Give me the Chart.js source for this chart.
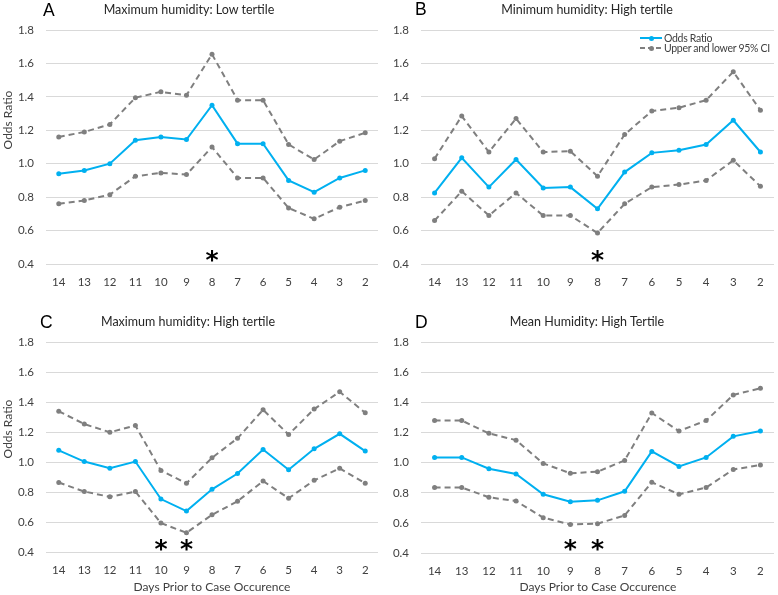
<!DOCTYPE html>
<html>
<head>
<meta charset="utf-8">
<script src="https://cdn.jsdelivr.net/npm/chart.js@4.4.1/dist/chart.umd.min.js"></script>
<style>
  body { margin: 0; background: #fff; }
  #page { position: relative; width: 778px; height: 595px; overflow: hidden; font-family: Lato, 'Open Sans', sans-serif; }
  canvas { position: absolute; }
  .letter { position: absolute; font-family: 'Liberation Sans', Arial, sans-serif; font-size: 17.5px; line-height: 1; color: #000; }
  .title { position: absolute; font-size: 12.5px; line-height: 1; color: #262626; white-space: nowrap; transform: translate(-50%, -50%); }
  .ytitle { position: absolute; font-size: 12px; line-height: 1; color: #404040; white-space: nowrap; transform: translate(-50%, -50%) rotate(-90deg); }
  .xtitle { position: absolute; font-size: 12px; line-height: 1; color: #404040; white-space: nowrap; transform: translate(-50%, -50%); }
  .legend { position: absolute; left: 640px; top: 33px; font-size: 10.5px; letter-spacing: -0.3px; color: #404040; }
  .legend .row { height: 10px; display: flex; align-items: center; white-space: nowrap; }
  .legend .swatch { position: relative; width: 22px; height: 2px; margin-right: 2px; }
  .legend .swatch i { position: absolute; left: 8.5px; top: -1.5px; width: 5px; height: 5px; border-radius: 50%; }
</style>
</head>
<body>
<div id="page">
  <canvas id="chartA"></canvas>
  <canvas id="chartB"></canvas>
  <canvas id="chartC"></canvas>
  <canvas id="chartD"></canvas>

  <div class="letter" style="left:43px;top:1.5px">A</div>
  <div class="letter" style="left:415px;top:1px">B</div>
  <div class="letter" style="left:40px;top:313.5px">C</div>
  <div class="letter" style="left:415px;top:313.5px">D</div>

  <div class="title" style="left:189px;top:10px">Maximum humidity: Low tertile</div>
  <div class="title" style="left:587px;top:10px">Minimum humidity: High tertile</div>
  <div class="title" style="left:188px;top:322px">Maximum humidity: High tertile</div>
  <div class="title" style="left:587px;top:322px">Mean Humidity: High Tertile</div>

  <div class="ytitle" style="left:7.5px;top:120px">Odds Ratio</div>
  <div class="ytitle" style="left:7.5px;top:429px">Odds Ratio</div>
  <div class="xtitle" style="left:212px;top:587px">Days Prior to Case Occurence</div>
  <div class="xtitle" style="left:598px;top:587px">Days Prior to Case Occurence</div>

  <div class="legend">
    <div class="row"><span class="swatch" style="background:#00b0f0"><i style="background:#00b0f0"></i></span>Odds Ratio</div>
    <div class="row"><span class="swatch" style="background:repeating-linear-gradient(90deg,#7f7f7f 0 5px,transparent 5px 8px)"><i style="background:#7f7f7f"></i></span>Upper and lower 95% CI</div>
  </div>
</div>

<script>
const DAYS = ['14', '13', '12', '11', '10', '9', '8', '7', '6', '5', '4', '3', '2']

// A: Maximum humidity, low tertile
const OR_A    = [0.94, 0.96, 1.00, 1.14, 1.16, 1.145, 1.35, 1.12, 1.12, 0.90, 0.83, 0.915, 0.96]
const UPPER_A = [1.16, 1.19, 1.235, 1.395, 1.43, 1.41, 1.655, 1.38, 1.38, 1.115, 1.025, 1.135, 1.185]
const LOWER_A = [0.76, 0.78, 0.815, 0.925, 0.945, 0.935, 1.10, 0.915, 0.915, 0.735, 0.67, 0.74, 0.78]
const SIG_A   = ['8']

// B: Minimum humidity, high tertile
const OR_B    = [0.825, 1.035, 0.86, 1.025, 0.855, 0.86, 0.73, 0.95, 1.065, 1.08, 1.115, 1.26, 1.07]
const UPPER_B = [1.03, 1.285, 1.07, 1.27, 1.07, 1.075, 0.925, 1.175, 1.315, 1.335, 1.38, 1.55, 1.32]
const LOWER_B = [0.66, 0.835, 0.69, 0.825, 0.69, 0.69, 0.585, 0.76, 0.86, 0.875, 0.90, 1.02, 0.865]
const SIG_B   = ['8']

// C: Maximum humidity, high tertile
const OR_C    = [1.08, 1.005, 0.96, 1.005, 0.755, 0.675, 0.82, 0.925, 1.085, 0.95, 1.09, 1.19, 1.075]
const UPPER_C = [1.34, 1.255, 1.20, 1.245, 0.945, 0.86, 1.03, 1.16, 1.35, 1.185, 1.355, 1.47, 1.33]
const LOWER_C = [0.865, 0.805, 0.77, 0.805, 0.595, 0.53, 0.65, 0.74, 0.875, 0.76, 0.88, 0.96, 0.86]
const SIG_C   = ['10', '9']

// D: Mean humidity, high tertile
const OR_D    = [1.035, 1.035, 0.96, 0.925, 0.79, 0.74, 0.75, 0.81, 1.075, 0.975, 1.035, 1.175, 1.21]
const UPPER_D = [1.28, 1.28, 1.195, 1.15, 0.995, 0.93, 0.94, 1.015, 1.33, 1.21, 1.28, 1.45, 1.495]
const LOWER_D = [0.835, 0.835, 0.77, 0.745, 0.635, 0.59, 0.595, 0.65, 0.87, 0.79, 0.835, 0.955, 0.985]
const SIG_D   = ['9', '8']

const Y_MIN = 0.4
const Y_MAX = 1.8
const Y_STEP = 0.2
const SIG_LEVEL = 0.45

const BLUE = '#00b0f0'
const GRAY = '#7f7f7f'
const TICK_FONT = { family: 'Lato, "Open Sans", sans-serif', size: 11.5 }

// draws a bold asterisk above each significant day
const sigStars = {
  id: 'sigStars',
  afterDatasetsDraw(chart, _args, opts) {
    const { ctx, scales: { x, y } } = chart
    ctx.save()
    ctx.font = 'bold 25px "DejaVu Sans", sans-serif'
    ctx.fillStyle = '#000'
    ctx.textAlign = 'center'
    ctx.textBaseline = 'alphabetic'
    const m = ctx.measureText('*')
    const yc = y.getPixelForValue(SIG_LEVEL)
    const yb = yc + (m.actualBoundingBoxAscent - m.actualBoundingBoxDescent) / 2
    opts.days.forEach(d => {
      ctx.fillText('*', x.getPixelForValue(DAYS.indexOf(d)), yb)
    })
    ctx.restore()
  }
}

function lineSet(label, data, color, dashed) {
  return {
    label,
    data,
    borderColor: color,
    backgroundColor: color,
    pointBackgroundColor: color,
    pointBorderWidth: 0,
    pointRadius: 2.5,
    borderWidth: 2,
    borderDash: dashed ? [6, 4] : [],
    tension: 0,
    fill: false
  }
}

// box: canvas position/size plus the chart area edges inside it
function buildPanel(id, box, or, upper, lower, sig) {
  const canvas = document.getElementById(id)
  canvas.width = box.w
  canvas.height = box.h
  canvas.style.left = box.x + 'px'
  canvas.style.top = box.y + 'px'

  new Chart(canvas, {
    type: 'line',
    data: {
      labels: DAYS,
      datasets: [
        lineSet('Upper 95% CI', upper, GRAY, true),
        lineSet('Lower 95% CI', lower, GRAY, true),
        lineSet('Odds Ratio', or, BLUE, false)
      ]
    },
    options: {
      responsive: false,
      animation: false,
      layout: { padding: { top: box.top, right: box.w - box.right, bottom: 0, left: 0 } },
      plugins: {
        legend: { display: false },
        tooltip: { enabled: false },
        sigStars: { days: sig }
      },
      scales: {
        x: {
          offset: true,
          grid: { display: false, drawTicks: false },
          border: { display: false },
          ticks: { color: '#404040', font: TICK_FONT, padding: 11, maxRotation: 0, autoSkip: false },
          afterFit: s => { s.height = box.h - box.bottom }
        },
        y: {
          min: Y_MIN,
          max: Y_MAX,
          grid: { color: '#d9d9d9', drawTicks: false },
          border: { display: false },
          ticks: { stepSize: Y_STEP, color: '#404040', font: TICK_FONT, padding: 12, callback: v => v.toFixed(1) },
          afterFit: s => { s.width = box.left }
        }
      }
    },
    plugins: [sigStars]
  })
}

buildPanel('chartA', { x: 0,   y: 0,   w: 390, h: 297, left: 46, right: 378, top: 30,   bottom: 264 },   OR_A, UPPER_A, LOWER_A, SIG_A)
buildPanel('chartB', { x: 390, y: 0,   w: 388, h: 297, left: 31, right: 387, top: 30,   bottom: 264 },   OR_B, UPPER_B, LOWER_B, SIG_B)
buildPanel('chartC', { x: 0,   y: 297, w: 390, h: 298, left: 46, right: 378, top: 45.3, bottom: 255.3 }, OR_C, UPPER_C, LOWER_C, SIG_C)
buildPanel('chartD', { x: 390, y: 297, w: 388, h: 298, left: 31, right: 387, top: 45.3, bottom: 256 },   OR_D, UPPER_D, LOWER_D, SIG_D)
</script>
</body>
</html>
